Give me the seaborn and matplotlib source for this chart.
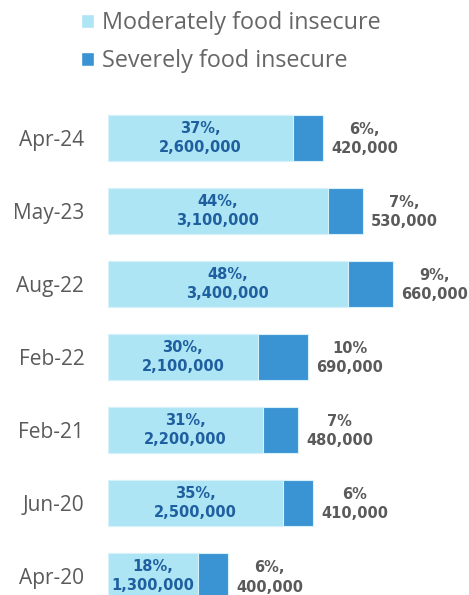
import pandas as pd
import seaborn as sns
import matplotlib.pyplot as plt
from matplotlib.patches import Patch

# Survey rounds, top to bottom
periods = ['Apr-24', 'May-23', 'Aug-22', 'Feb-22', 'Feb-21', 'Jun-20', 'Apr-20']
moderate_pct = [37, 44, 48, 30, 31, 35, 18]
severe_pct = [6, 7, 9, 10, 7, 6, 6]
moderate_labels = ['37%,\n2,600,000', '44%,\n3,100,000', '48%,\n3,400,000', '30%,\n2,100,000',
                   '31%,\n2,200,000', '35%,\n2,500,000', '18%,\n1,300,000']
severe_labels = ['6%,\n420,000', '7%,\n530,000', '9%,\n660,000', '10%\n690,000',
                 '7%\n480,000', '6%\n410,000', '6%,\n400,000']

MOD_COLOR = '#ade5f5'
SEV_COLOR = '#3a93d3'
GREY = '#5a5a5a'
DARK_BLUE = '#1f5f9f'


def main():
    df = pd.DataFrame({'period': periods, 'moderate': moderate_pct, 'severe': severe_pct})
    df['total'] = df['moderate'] + df['severe']

    sns.set_theme(style='white')
    plt.rcParams['font.family'] = ['Open Sans', 'DejaVu Sans']

    fig = plt.figure(figsize=(4.69, 5.95), dpi=100)
    ax = fig.add_axes([0.230, 0.0, 0.768, 0.832])

    # stacked: full bar in severe colour, moderate drawn over it
    sns.barplot(data=df, y='period', x='total', color=SEV_COLOR, saturation=1, orient='h',
                width=0.63, edgecolor='#d8f0fa', linewidth=0.8, ax=ax)
    sns.barplot(data=df, y='period', x='moderate', color=MOD_COLOR, saturation=1, orient='h',
                width=0.63, edgecolor='#d8f0fa', linewidth=0.8, ax=ax)

    for i, row in df.iterrows():
        ax.text(row['moderate'] / 2, i, moderate_labels[i], ha='center', va='center',
                fontsize=10.5, fontweight='bold', color=DARK_BLUE, linespacing=1.35,
                family=['DejaVu Sans'])
        ax.annotate(severe_labels[i], xy=(row['total'], i), xytext=(30, -1),
                    textcoords='offset points', ha='center', va='center',
                    fontsize=10.5, fontweight='bold', color=GREY, linespacing=1.35,
                    family=['DejaVu Sans'])

    ax.set_xlim(0, 72)
    ax.set_ylim(6.26, -0.52)
    ax.set_xlabel('')
    ax.set_ylabel('')
    ax.set_xticks([])
    ax.tick_params(axis='y', length=0, pad=17, labelsize=15, labelcolor=GREY)
    sns.despine(ax=ax, left=True, bottom=True)

    handles = [Patch(facecolor=MOD_COLOR, label='Moderately food insecure'),
               Patch(facecolor=SEV_COLOR, label='Severely food insecure')]
    fig.legend(handles=handles, loc='upper left', bbox_to_anchor=(0.128, 1.016), frameon=False,
               fontsize=16.8, labelcolor='#666666', handlelength=0.55, handleheight=0.55,
               handletextpad=0.35, labelspacing=0.6)

    fig.savefig('out.png', dpi=100)


if __name__ == '__main__':
    main()
